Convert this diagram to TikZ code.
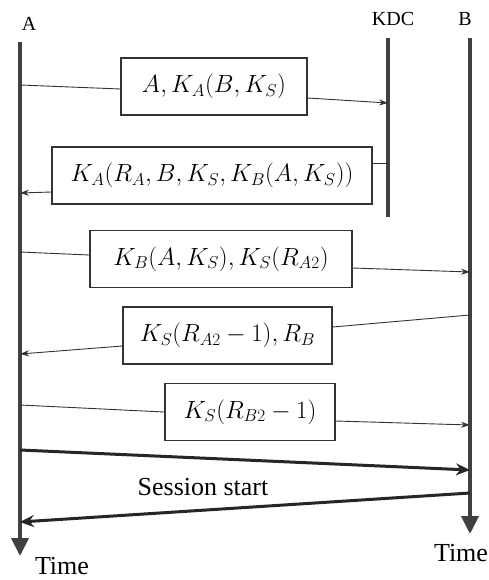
\documentclass[tikz,border=0pt]{standalone}
\usepackage{fontspec}
\setmainfont{Liberation Serif}
\usetikzlibrary{arrows.meta, positioning}

\begin{document}
\begin{tikzpicture}[
    x=1pt, y=-1pt,
    msg/.style={draw=black!80, line width=1.3pt, inner sep=0pt,
                minimum height=57pt, font=\fontsize{23}{27}\selectfont},
    life/.style={draw=black!75, line width=4pt},
    wire/.style={draw=black!80, line width=0.9pt},
    bold/.style={draw=black!85, line width=3pt},
    lbl/.style={font=\fontsize{20}{24}\selectfont},
    big/.style={font=\fontsize{26}{30}\selectfont},
    >=Stealth
  ]
  \useasboundingbox (0,0) rectangle (488,580);

  % lifelines
  \coordinate (atop) at (20,42);
  \coordinate (abot) at (20,556);
  \coordinate (ktop) at (388,38);
  \coordinate (kbot) at (388,217);
  \coordinate (btop) at (470,38);
  \coordinate (bbot) at (470,534);
  \draw[life, -{Triangle[width=17pt,length=18pt]}] (atop) -- (abot);
  \draw[life] (ktop) -- (kbot);
  \draw[life, -{Triangle[width=17pt,length=18pt]}] (btop) -- (bbot);

  \node[lbl] (la) at (29,24) {A};
  \node[lbl] (lk) at (393,19) {KDC};
  \node[lbl] (lb) at (465,19) {B};
  \node[big] (ta) at (62,566) {Time};
  \node[big] (tb) at (461,553) {Time};

  % messages
  \node[msg, minimum width=186pt] (m1) at (214,86.5)
    {$A, K_A\bigl(B, K_S\bigr)$};
  \node[msg, minimum width=320pt] (m2) at (212,175.5)
    {$K_A\bigl(R_A, B, K_S, K_B(A, K_S)\bigr)$};
  \node[msg, minimum width=262pt] (m3) at (221,259)
    {$K_B\bigl(A, K_S\bigr), K_S\bigl(R_{A2}\bigr)$};
  \node[msg, minimum width=209pt] (m4) at (227.5,335.5)
    {$K_S\bigl(R_{A2}-1\bigr), R_B$};
  \node[msg, minimum width=170pt] (m5) at (250,412)
    {$K_S\bigl(R_{B2}-1\bigr)$};

  \coordinate (a1) at (20,85);   \coordinate (k1) at (388,103);
  \coordinate (k2) at (388,163); \coordinate (a2) at (20,193);
  \coordinate (a3) at (20,252);  \coordinate (b3) at (470,272);
  \coordinate (b4) at (470,315); \coordinate (a4) at (20,354);
  \coordinate (a5) at (20,405);  \coordinate (b5) at (470,425);
  \coordinate (a6) at (20,450);  \coordinate (b6) at (470,470);
  \coordinate (b7) at (470,493); \coordinate (a7) at (20,522);

  \draw[wire] (a1) -- ([yshift=-2.5pt]m1.west);
  \draw[wire, -{Stealth[length=9pt,width=6pt]}] ([yshift=-11.5pt]m1.east) -- (k1);
  \draw[wire] (k2) -- ([yshift=12.5pt]m2.east);
  \draw[wire, -{Stealth[length=9pt,width=6pt]}] ([yshift=-16.5pt]m2.west) -- (a2);
  \draw[wire] (a3) -- ([yshift=4pt]m3.west);
  \draw[wire, -{Stealth[length=9pt,width=6pt]}] ([yshift=-9pt]m3.east) -- (b3);
  \draw[wire] (b4) -- ([yshift=8.5pt]m4.east);
  \draw[wire, -{Stealth[length=9pt,width=6pt]}] ([yshift=-10.5pt]m4.west) -- (a4);
  \draw[wire] (a5) -- (m5.west);
  \draw[wire, -{Stealth[length=9pt,width=6pt]}] ([yshift=-9pt]m5.east) -- (b5);

  % session
  \draw[bold, -{Stealth[length=14pt,width=12pt]}] (a6) -- (b6);
  \draw[bold, -{Stealth[length=14pt,width=12pt]}] (b7) -- (a7);
  \node[big] (sess) at (203,487) {Session start};
\end{tikzpicture}
\end{document}
